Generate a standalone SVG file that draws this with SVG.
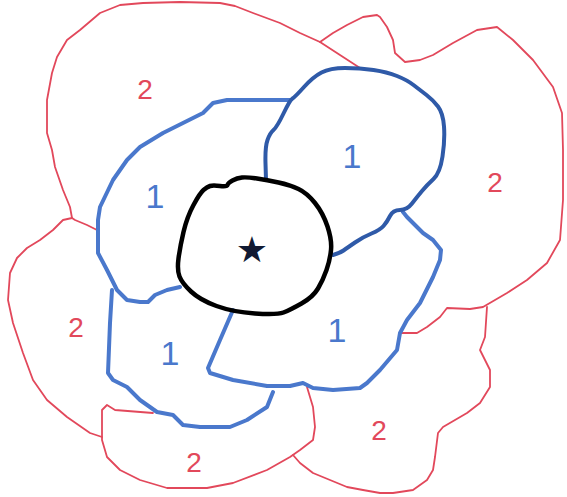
<svg xmlns="http://www.w3.org/2000/svg" width="567" height="497" viewBox="0 0 567 497">
<style>
.r{fill:none;stroke:#e2485b;stroke-width:1.8;stroke-linejoin:round;stroke-linecap:round}
.b{fill:none;stroke:#4a78cc;stroke-width:4;stroke-linejoin:round;stroke-linecap:round}
.d{fill:none;stroke:#2f5aa8;stroke-width:4;stroke-linejoin:round;stroke-linecap:round}
.k{fill:none;stroke:#000;stroke-width:4.5;stroke-linejoin:round}
.t2{font-family:"Liberation Sans",Arial,sans-serif;font-size:28px;fill:#e2485b;text-anchor:middle}
.t1{font-family:"Liberation Sans",Arial,sans-serif;font-size:34px;fill:#4a78cc;text-anchor:middle}
</style>
<rect width="567" height="497" fill="#fff"/>
<g id="regions2">
<polyline class="r" points="360,68 340,55 320,42 300,33 280,23 253,13 235,6 220,3 180,2 143,3 120,5 100,13 80,30 67,40 57,57 52,73 47,100 47,133 52,150 55,167 63,190 70,207 72,218 75,220 87,225 97,230"/>
<polyline class="r" points="72,218 63,220 53,230 40,240 27,248 17,258 10,273 8,300 13,323 23,353 33,380 47,400 67,417 90,433 102,437"/>
<polyline class="r" points="320,42 333,33 347,25 363,17 377,15 380,17 387,27 393,40 395,53 405,62 420,60 433,55 453,43 477,30 497,27 513,40 533,60 553,87 562,113 563,150 563,200 560,240 547,263 527,280 507,293 483,307 470,309 447,308 440,317 427,327 417,333 400,333"/>
<polyline class="r" points="487,307 485,337 480,350 490,370 490,387 480,403 467,413 443,427 438,433 435,457 433,470 427,480 413,490 393,493 380,493 363,490 347,487 330,480 313,473 300,463 293,455"/>
<polyline class="r" points="307,387 313,407 315,427 313,440 300,450 290,457 267,470 233,483 207,488 167,488 140,480 120,470 107,457 102,440 102,410 107,405 115,410 153,413"/>
</g>
<g id="regions1">
<polyline class="b" points="290,100 227,100 213,103 203,113 183,123 163,133 140,147 127,160 113,180 100,207 98,220 98,253 107,270 117,290 127,300 140,302 148,302 155,295 167,290 180,287"/>
<polyline class="b" points="112,290 110,323 108,373 113,380 127,387 140,400 157,412 173,415 183,425 200,427 230,427 247,420 267,407 273,392"/>
<polyline class="b" points="233,310 220,340 208,368 210,373 233,380 267,386 290,386 303,383 313,388 333,390 360,388 367,383 380,370 397,350 400,333 407,320 420,303 433,277 440,260 441,250 433,240 423,233 407,217 403,212"/>
<path class="d" d="M266,180 L265.5,163.5 Q265,147 267.5,140 Q270,133 273.5,130 Q277,127 283.5,113.5 Q290,100 292.5,98.5 Q295,97 304,87 Q313,77 321.5,72.5 Q330,68 345,68 Q360,68 373.5,70 Q387,72 397,76 Q407,80 413.5,85 Q420,90 426.5,95 Q433,100 438,106.5 Q443,113 444,126.5 Q445,140 442.5,156.5 Q440,173 433.5,179 Q427,185 422,191 Q417,197 412,203.5 Q407,210 400,210 Q393,210 390,216 Q387,222 383.5,226 Q380,230 371.5,233.5 Q363,237 355,242.5 Q347,248 343.5,250.5 Q340,253 333,255"/>
</g>
<g id="center">
<path class="k" d="M210,186 Q213,185 220,186 Q227,187 227.5,185 Q228,183 232.5,180.5 Q237,178 242,177.5 Q247,177 257,178.5 Q267,180 278.5,182.5 Q290,185 298.5,189 Q307,193 315,203 Q323,213 327.5,226.5 Q332,240 331,250 Q330,260 326.5,270 Q323,280 318,288.5 Q313,297 301.5,303.5 Q290,310 283.5,312.5 Q277,315 255,313.5 Q233,312 216.5,306 Q200,300 191,291.5 Q182,283 179.5,276.5 Q177,270 178.5,258.5 Q180,247 183.5,232 Q187,217 193.5,205 Q200,193 203.5,190 Q207,187 210,186 Z"/>
<text x="252" y="262" font-family="DejaVu Sans,sans-serif" font-size="36" fill="#111a33" text-anchor="middle">★</text>
</g>
<g id="labels">
<text class="t2" x="145" y="99">2</text>
<text class="t1" x="155" y="208">1</text>
<text class="t1" x="352" y="168">1</text>
<text class="t2" x="495" y="192">2</text>
<text class="t2" x="76" y="337">2</text>
<text class="t1" x="170" y="365">1</text>
<text class="t1" x="337" y="342">1</text>
<text class="t2" x="379" y="440">2</text>
<text class="t2" x="194" y="472">2</text>
</g>
</svg>
